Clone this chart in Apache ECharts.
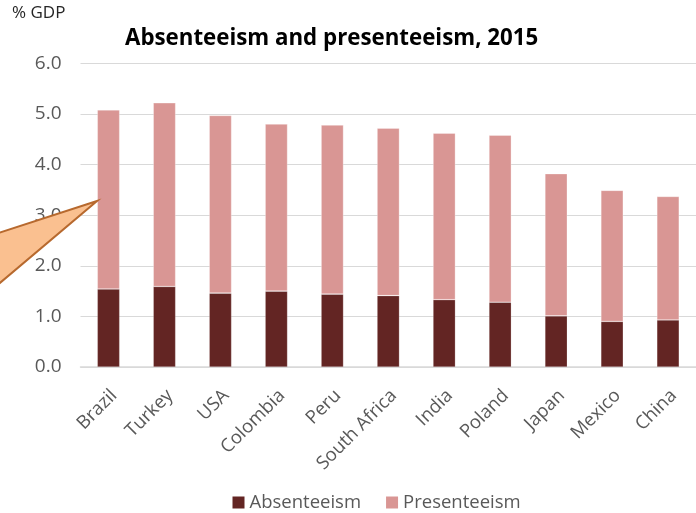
<!DOCTYPE html>
<html>
<head>
<meta charset="utf-8">
<script src="https://cdn.jsdelivr.net/npm/echarts@6/dist/echarts.min.js"></script>
<style>
  html, body { margin: 0; padding: 0; background: #fff; }
  #chart { width: 696px; height: 513px; }
</style>
</head>
<body>
<div id="chart"></div>
<script>
// Cost of absenteeism and presenteeism, % of GDP, 2015
const countries = ['Brazil', 'Turkey', 'USA', 'Colombia', 'Peru', 'South Africa', 'India', 'Poland', 'Japan', 'Mexico', 'China'];
const absenteeism = [1.54, 1.59, 1.46, 1.50, 1.44, 1.41, 1.33, 1.28, 1.01, 0.90, 0.93];
const presenteeism = [3.54, 3.63, 3.51, 3.30, 3.34, 3.31, 3.29, 3.30, 2.81, 2.59, 2.44];
const yTicks = [0, 1, 2, 3, 4, 5, 6];

const FONT = '"Open Sans"';
const chart = echarts.init(document.getElementById('chart'), null, { renderer: 'canvas' });

chart.setOption({
  backgroundColor: '#ffffff',
  animation: false,
  title: {
    text: 'Absenteeism and presenteeism, 2015',
    left: 120,
    top: 23,
    textStyle: { fontFamily: FONT, fontWeight: 'bold', fontSize: 22.3, color: '#000000' }
  },
  legend: {
    left: 227.5,
    top: 488,
    icon: 'rect',
    itemWidth: 12,
    itemHeight: 12,
    itemGap: 25,
    itemStyle: { borderWidth: 0 },
    textStyle: { fontFamily: FONT, fontSize: 18.5, color: '#595959' },
    data: ['Absenteeism', 'Presenteeism']
  },
  grid: { left: 80.5, right: -11.5, top: 63.3, bottom: 146, containLabel: false },
  xAxis: {
    type: 'category',
    data: countries,
    axisLine: { lineStyle: { color: '#D9D9D9', width: 1.5 } },
    axisTick: { show: false },
    axisLabel: {
      rotate: 45,
      interval: 0,
      margin: 20,
      verticalAlign: 'top',
      lineHeight: 16,
      fontFamily: FONT,
      fontSize: 18.5,
      color: '#595959'
    }
  },
  yAxis: {
    type: 'value',
    min: yTicks[0],
    max: yTicks[yTicks.length - 1],
    interval: 1,
    axisLine: { show: false },
    axisTick: { show: false },
    splitLine: { lineStyle: { color: '#D9D9D9', width: 1.2 } },
    axisLabel: {
      margin: 19,
      fontFamily: FONT,
      fontSize: 19,
      color: '#595959',
      formatter: v => v.toFixed(1)
    }
  },
  series: [
    {
      name: 'Absenteeism',
      type: 'bar',
      stack: 'cost',
      data: absenteeism,
      barCategoryGap: '60%',
      itemStyle: { color: '#632523', borderColor: 'rgba(255,255,255,0.35)', borderWidth: 0.6 }
    },
    {
      name: 'Presenteeism',
      type: 'bar',
      stack: 'cost',
      data: presenteeism,
      barCategoryGap: '60%',
      itemStyle: { color: '#D99694', borderColor: 'rgba(255,255,255,0.5)', borderWidth: 0.6 }
    }
  ],
  graphic: [
    {
      type: 'text',
      left: 12,
      top: 5,
      style: { text: '% GDP', fontFamily: FONT, fontSize: 17, fill: '#262626' }
    },
    {
      // callout pointer reaching in from the left edge
      type: 'polygon',
      z: 100,
      shape: { points: [[97, 201], [-6, 234.5], [-6, 288]] },
      style: { fill: '#FAC090', stroke: '#B7692E', lineWidth: 2 }
    }
  ]
});
</script>
</body>
</html>
